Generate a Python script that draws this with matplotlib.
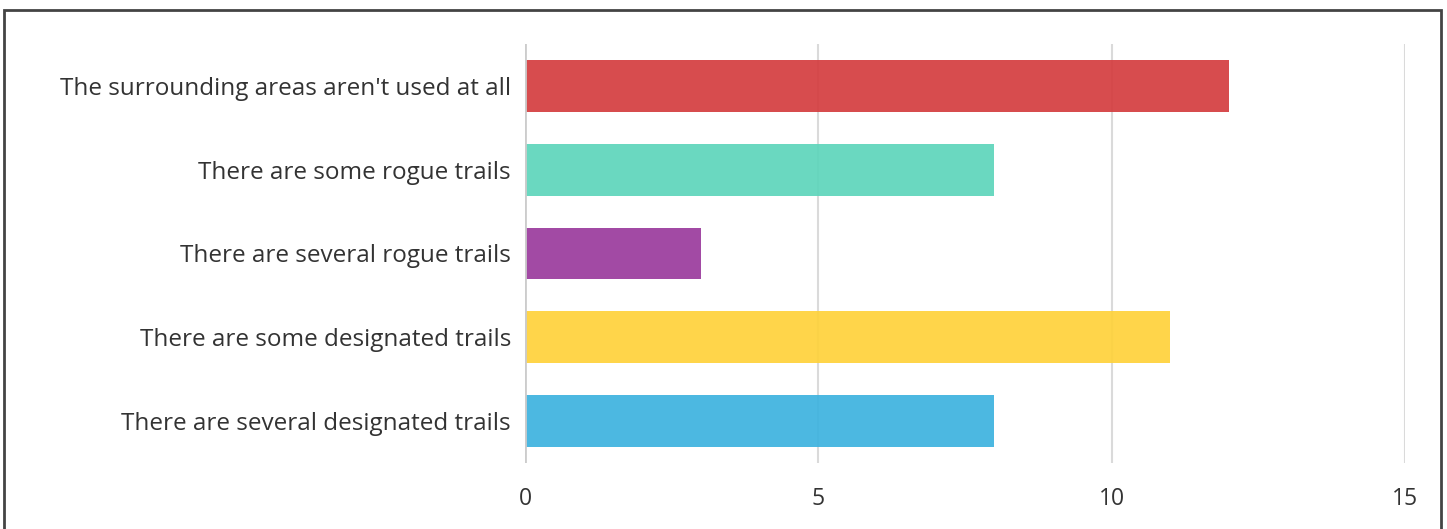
import matplotlib.pyplot as plt
from matplotlib.patches import Rectangle

categories = ["The surrounding areas aren't used at all",
              "There are some rogue trails",
              "There are several rogue trails",
              "There are some designated trails",
              "There are several designated trails"]
counts = [12, 8, 3, 11, 8]
colors = ["#d43d3f", "#5dd5bb", "#9a3a9c", "#ffd23a", "#3db2df"]

plt.rcParams['font.family'] = ['Open Sans', 'DejaVu Sans']

fig = plt.figure(figsize=(14.47, 5.29), dpi=100)
ax = fig.add_axes([525/1447, 1 - 463/529, 880/1447, 419/529])

ypos = range(len(categories))
for x in [5, 10, 15]:
    ax.axvline(x, color="#dadada", lw=1.5, zorder=0)
ax.barh(ypos, counts, height=0.62, color=colors, alpha=0.92, zorder=1)
ax.axvline(0, color="#cccccc", lw=2, zorder=3)

ax.set_xlim(0, 15)
ax.set_ylim(len(categories) - 0.5, -0.5)
ax.set_xticks([0, 5, 10, 15])
ax.set_yticks(list(ypos))
ax.set_yticklabels(categories, fontsize=17.5)

for s in ax.spines.values():
    s.set_visible(False)
ax.tick_params(axis='both', length=0, colors="#333333")
ax.tick_params(axis='x', pad=17, labelsize=16.5)
ax.tick_params(axis='y', pad=10)

fig.patches.append(Rectangle((4/1447, -0.1), 1437/1447, 1.1 - 10/529,
                             transform=fig.transFigure, fill=False,
                             edgecolor="#444444", lw=2))

fig.savefig("out.png", dpi=100)
